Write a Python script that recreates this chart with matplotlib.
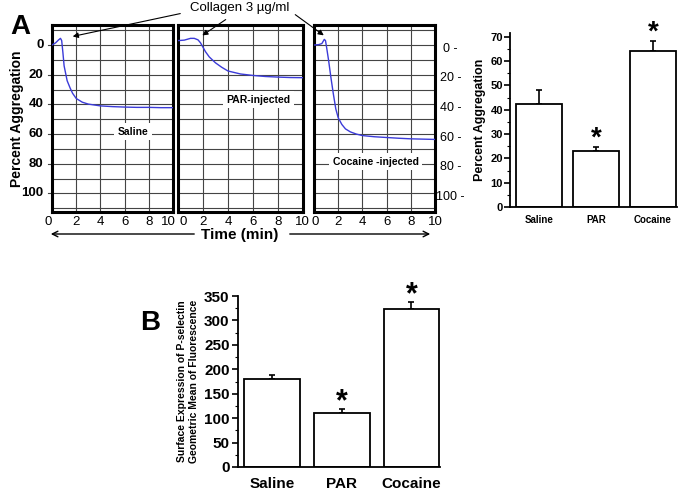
import numpy as np
import matplotlib
matplotlib.use("Agg")
import matplotlib.pyplot as plt
from matplotlib.ticker import MultipleLocator

plt.rcParams['font.family'] = ['Liberation Sans', 'DejaVu Sans']

# --- aggregation traces (time in min, percent aggregation) ---
saline_t = [0, 0.3, 0.55, 0.7, 0.8, 0.9, 1.0, 1.25, 1.5, 1.7, 2.0, 2.5, 3.0, 4.0, 5.0, 6.0, 7.0, 8.0, 9.0, 10.0]
saline_y = [0, -1.5, -3.5, -4.5, -3, 5, 14, 24, 29, 32.5, 36, 38.5, 39.8, 41, 41.5, 41.8, 42, 42, 42.2, 42.2]

par_t = [0, 0.5, 1.0, 1.3, 1.6, 1.8, 2.0, 2.2, 2.5, 3.0, 3.5, 4.0, 5.0, 6.0, 7.0, 8.0, 9.0, 10.0]
par_y = [-3, -3.3, -4.5, -4.5, -3.5, -1.5, 1.5, 4.5, 8, 12, 15, 17.5, 19.5, 20.5, 21.2, 21.6, 21.9, 22]

coc_t = [0, 0.4, 0.65, 0.85, 0.95, 1.05, 1.2, 1.4, 1.6, 1.8, 2.0, 2.3, 2.6, 3.0, 3.5, 4.0, 5.0, 6.0, 7.0, 8.0, 9.0, 10.0]
coc_y = [0, -0.3, -1, -3.8, -3, 2, 10, 22, 33, 43, 49, 53.5, 56.5, 58.5, 60, 61, 61.8, 62.3, 62.8, 63.2, 63.4, 63.6]

trace_labels = ["Saline", "PAR-injected", "Cocaine -injected"]

# --- bar data ---
groups = ["Saline", "PAR", "Cocaine"]
agg_mean = [42.5, 22.9, 64.2]
agg_err = [5.8, 1.8, 4.0]
agg_sig = [False, True, True]

psel_mean = [181, 110, 324]
psel_err = [7, 9, 13]
psel_sig = [False, True, True]

time_ticks = [0, 2, 4, 6, 8, 10]
agg_ticks = [0, 20, 40, 60, 80, 100]

W, H = 685, 492
fig = plt.figure(figsize=(W / 100, H / 100), dpi=100)


def px_axes(x0, y0, x1, y1):
    return fig.add_axes([x0 / W, 1 - y1 / H, (x1 - x0) / W, (y1 - y0) / H])


line_col = '#3b3bd8'
# frame x-range (px), trace, label position, nudges (pt) for the "0" and "10" labels
panels = [
    (52, 173, saline_t, saline_y, (0.67, 0.43), (-3, -3.5)),
    (178, 303, par_t, par_y, (0.64, 0.6), (3.5, -0.5)),
    (314, 435, coc_t, coc_y, (0.51, 0.27), (0.5, 0)),
]
trace_axes = []
for i, (x0, x1, t, y, lab_pos, nudge) in enumerate(panels):
    ax = px_axes(x0, 25, x1, 212)
    ax.plot(t, y, color=line_col, lw=1.0, zorder=3)
    ax.set_xlim(0, 10)
    ax.set_ylim(112.5, -13.5)
    ax.set_xticks([2, 4, 6, 8])
    ax.set_yticks(np.arange(-10, 111, 10))
    ax.grid(True, color='#444444', lw=0.8)
    ax.tick_params(length=0, labelleft=False, labelbottom=False)
    for s in ax.spines.values():
        s.set_linewidth(2.2)
    ax.text(lab_pos[0], lab_pos[1], trace_labels[i], transform=ax.transAxes,
            ha='center', va='center', fontsize=7.5, fontweight='bold',
            bbox=dict(facecolor='white', edgecolor='none', pad=2.5), zorder=4)
    for tv in time_ticks:
        dx = nudge[0] if tv == 0 else (nudge[1] if tv == 10 else 0)
        ax.annotate(str(tv), xy=(tv, 0), xycoords=('data', 'axes fraction'),
                    xytext=(dx, -3), textcoords='offset points',
                    ha='center', va='top', fontsize=9.5)
    trace_axes.append(ax)

ax1 = trace_axes[0]
for v in agg_ticks:
    ax1.annotate(str(v), xy=(0, v), xycoords=('axes fraction', 'data'),
                 xytext=(-6, 0), textcoords='offset points',
                 ha='right', va='center', fontsize=9.5, fontweight='bold')
    ax1.plot([-0.035, 0], [v, v], transform=ax1.get_yaxis_transform(),
             color='#444444', lw=0.8, clip_on=False)
ax1.text(-0.29, 0.5, "Percent Aggregation", transform=ax1.transAxes, rotation=90,
         ha='center', va='center', fontsize=10, fontweight='bold')

ax3 = trace_axes[2]
for v in agg_ticks:
    ax3.annotate(str(v) + " -", xy=(1, v), xycoords=('axes fraction', 'data'),
                 xytext=(11, -2.5), textcoords='offset points',
                 ha='center', va='center', fontsize=9)

# collagen annotation
fig.text(240 / W, 1 - 8 / H, "Collagen 3 \u00b5g/ml", ha='center', va='center', fontsize=9.5)
arrows = [((183, 13), (70, 37)), ((228, 18), (200, 37)), ((293, 13), (326, 37))]
for (sx, sy), (ex, ey) in arrows:
    fig.add_artist(matplotlib.patches.FancyArrowPatch(
        (sx / W, 1 - sy / H), (ex / W, 1 - ey / H), transform=fig.transFigure,
        arrowstyle='-|>', mutation_scale=8, color='black', lw=0.8))

# time axis arrow
fig.text(240 / W, 1 - 235 / H, "Time (min)", ha='center', va='center', fontsize=11, fontweight='bold')
fig.add_artist(matplotlib.patches.FancyArrowPatch(
    (197 / W, 1 - 234 / H), (48 / W, 1 - 234 / H), transform=fig.transFigure,
    arrowstyle='->', mutation_scale=10, color='black', lw=1.0))
fig.add_artist(matplotlib.patches.FancyArrowPatch(
    (287 / W, 1 - 234 / H), (433 / W, 1 - 234 / H), transform=fig.transFigure,
    arrowstyle='->', mutation_scale=10, color='black', lw=1.0))

fig.text(20 / W, 1 - 27 / H, "A", ha='center', va='center', fontsize=20, fontweight='bold')
fig.text(150 / W, 1 - 323 / H, "B", ha='center', va='center', fontsize=20, fontweight='bold')


def bar_panel(ax, means, errs, sig, ylim, major, minor, xlim, tick_fs, star_fs, star_off):
    xs = np.arange(len(groups))
    ax.bar(xs, means, width=0.8, color='white', edgecolor='black', lw=1.3, zorder=2)
    ax.errorbar(xs, means, yerr=[np.zeros(len(errs)), errs], fmt='none',
                ecolor='black', elinewidth=1.2, capsize=2.5, capthick=1.2, zorder=1)
    for x, m, e, s in zip(xs, means, errs, sig):
        if s:
            ax.annotate("*", xy=(x, m + e), xytext=(0, star_off), textcoords='offset points',
                        ha='center', va='center', fontsize=star_fs, fontweight='bold',
                        annotation_clip=False)
    ax.set_ylim(*ylim)
    ax.set_xlim(*xlim)
    ax.yaxis.set_major_locator(MultipleLocator(major))
    ax.yaxis.set_minor_locator(MultipleLocator(minor))
    ax.set_xticks(xs)
    ax.set_xticklabels(groups, fontweight='bold', fontsize=tick_fs)
    ax.spines['top'].set_visible(False)
    ax.spines['right'].set_visible(False)
    ax.spines['left'].set_linewidth(1.3)
    ax.spines['bottom'].set_linewidth(1.3)
    ax.tick_params(axis='y', which='major', length=4, width=1.2)
    ax.tick_params(axis='y', which='minor', length=2, width=0.8)
    for lab in ax.get_yticklabels():
        lab.set_fontweight('bold')


axA = px_axes(510, 33, 677, 207)
bar_panel(axA, agg_mean, agg_err, agg_sig, (0, 71.6), 10, 5, (-0.506, 2.42), 7, 20, 6)
axA.tick_params(axis='x', length=0, pad=6)
axA.tick_params(axis='y', labelsize=8, pad=1)
axA.set_ylabel("Percent Aggregation", fontsize=9, fontweight='bold', labelpad=3)

axB = px_axes(238, 296, 440, 467)
bar_panel(axB, psel_mean, psel_err, psel_sig, (0, 350), 50, 25, (-0.487, 2.41), 11, 22, 5)
axB.tick_params(axis='x', length=0, pad=7)
axB.tick_params(axis='y', labelsize=11, pad=2)
axB.set_ylabel("Surface Expression of P-selectin\nGeometric Mean of Fluorescence",
               fontsize=7.5, fontweight='bold', labelpad=4)

fig.savefig("out.png", dpi=100)
